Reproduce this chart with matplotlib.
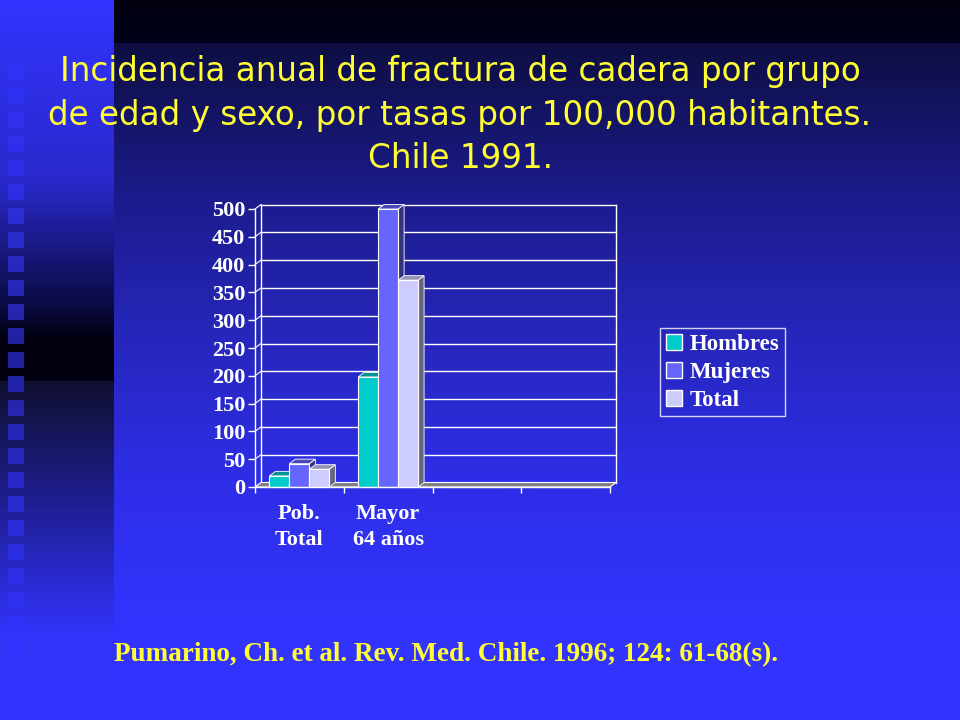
import numpy as np
import matplotlib
matplotlib.use("Agg")
import matplotlib.pyplot as plt
from matplotlib.patches import Polygon, Patch, Rectangle

# --- datos ---
categorias = ["Pob.\nTotal", "Mayor\n64 años", "", ""]
series = ["Hombres", "Mujeres", "Total"]
hombres = [20, 198, 0, 0]
mujeres = [42, 500, 0, 0]
total = [32, 372, 0, 0]
y_ticks = [0, 50, 100, 150, 200, 250, 300, 350, 400, 450, 500]

titulo = ("Incidencia anual de fractura de cadera por grupo\n"
          "de edad y sexo, por tasas por 100,000 habitantes.\n"
          "Chile 1991.")
cita = "Pumarino, Ch. et al. Rev. Med. Chile. 1996; 124: 61-68(s)."

colores = ["#00cccc", "#6666ff", "#ccccff"]
amarillo = "#ffff33"

W, H = 960, 720
fig = plt.figure(figsize=(W / 100, H / 100), dpi=100)

# --- fondo (degradado tipo diapositiva) ---
bg = fig.add_axes([0, 0, 1, 1])
yy = np.arange(H)


def grad(stops):
    ys = [s[0] for s in stops]
    cols = np.array([matplotlib.colors.to_rgb(s[1]) for s in stops])
    return np.stack([np.interp(yy, ys, cols[:, k]) for k in range(3)], axis=1)


main_col = grad([(0, "#000010"), (42, "#000018"), (43, "#0e0e42"), (200, "#1c1c8e"),
                 (330, "#2626ba"), (480, "#2e2ee8"), (630, "#3333ff"), (719, "#3333ff")])
left_col = grad([(0, "#3333ff"), (180, "#2929cc"), (300, "#0c0c48"), (338, "#000010"),
                 (380, "#000010"), (381, "#101030"), (500, "#1e1e90"), (630, "#3232f8"),
                 (719, "#3333ff")])
sq_col = grad([(0, "#3333ff"), (184, "#2f2fe6"), (350, "#22229c"), (500, "#2a2ad0"),
               (640, "#3333ff"), (719, "#3333ff")])
img = np.zeros((H, W, 3))
img[:, :, :] = main_col[:, None, :]
img[:, :114, :] = left_col[:, None, :]
for k in range(25):
    y0 = 64 + 24 * k
    img[y0:y0 + 16, 8:24, :] = sq_col[y0:y0 + 16][:, None, :]
bg.imshow(img, extent=(0, W, H, 0), aspect="auto")
bg.set_xlim(0, W)
bg.set_ylim(H, 0)
bg.axis("off")

# --- titulo y cita ---
fig.text(460 / W, 1 - 115 / H, titulo, ha="center", va="center", color=amarillo,
         fontsize=23.5, family="DejaVu Sans", linespacing=1.42)
fig.text(114 / W, 1 - 655 / H, cita, ha="left", va="center", color=amarillo,
         fontsize=19.5, family="Liberation Serif", weight="bold")

# --- grafico de barras 3D ---
ax = fig.add_axes([255 / W, (H - 487) / H, 355 / W, 278 / H])
ax.set_xlim(-0.5, 3.5)
ax.set_ylim(0, 500)
ax.patch.set_alpha(0)
for s in ax.spines.values():
    s.set_visible(False)

dx = 6 / 88.75
dy = 4.5 / (278 / 500)
x = np.arange(len(categorias))
w = 0.225

# pared del fondo
for yv in y_ticks[1:]:
    ax.plot([-0.5 + dx, 3.5 + dx], [yv + dy, yv + dy], color="white", lw=1, clip_on=False, zorder=1)
    ax.plot([-0.5, -0.5 + dx], [yv, yv + dy], color="white", lw=0.8, clip_on=False, zorder=1)
ax.plot([-0.5 + dx, -0.5 + dx], [dy, 500 + dy], color="white", lw=1, clip_on=False, zorder=1)
ax.plot([3.5 + dx, 3.5 + dx], [dy, 500 + dy], color="white", lw=1, clip_on=False, zorder=1)
ax.plot([-0.5, -0.5], [0, 500], color="white", lw=1, clip_on=False, zorder=1)
ax.add_patch(Polygon([(-0.5, 0), (3.5, 0), (3.5 + dx, dy), (-0.5 + dx, dy)], closed=True,
                     facecolor="#808080", edgecolor="white", lw=0.8, clip_on=False, zorder=2))


def oscuro(c, f):
    r, g, b = matplotlib.colors.to_rgb(c)
    return (r * f, g * f, b * f)


datos = [hombres, mujeres, total]
for i, (vals, col) in enumerate(zip(datos, colores)):
    off = (i - 1) * w
    for j, v in enumerate(vals):
        if v <= 0:
            continue
        x0 = x[j] + off - w / 2
        x1 = x0 + w
        z = 3 + 3 * i
        ax.add_patch(Polygon([(x1, 0), (x1, v), (x1 + dx, v + dy), (x1 + dx, dy)], closed=True,
                             facecolor=oscuro(col, 0.5), edgecolor="white", lw=0.6,
                             clip_on=False, zorder=z))
        ax.add_patch(Polygon([(x0, v), (x0 + dx, v + dy), (x1 + dx, v + dy), (x1, v)], closed=True,
                             facecolor=oscuro(col, 0.72), edgecolor="white", lw=0.6,
                             clip_on=False, zorder=z))
    ax.bar(x + off, vals, width=w, color=col, edgecolor="white", linewidth=0.8,
           zorder=4 + 3 * i, clip_on=False)

ax.plot([-0.5, 3.5], [0, 0], color="white", lw=1, clip_on=False, zorder=20)

ax.set_yticks(y_ticks)
ax.tick_params(axis="y", colors="white", length=5, width=1, pad=2)
ax.set_xticks(x)
ax.set_xticklabels(categorias)
ax.set_xticks(np.arange(-0.5, 4, 1), minor=True)
ax.tick_params(axis="x", which="major", length=0, pad=12, colors="white")
ax.tick_params(axis="x", which="minor", length=4, width=1, colors="white")
for lbl in ax.get_xticklabels() + ax.get_yticklabels():
    lbl.set_family("Liberation Serif")
    lbl.set_weight("bold")
    lbl.set_fontsize(16)
    lbl.set_color("white")
for lbl in ax.get_xticklabels():
    lbl.set_linespacing(1.45)

# leyenda
handles = [Patch(facecolor=c, edgecolor="white", lw=1) for c in colores]
leg = fig.legend(handles, series, loc="upper left", bbox_to_anchor=(660 / W, 1 - 328 / H),
                 frameon=True, facecolor="none", edgecolor="white", fancybox=False,
                 prop={"family": "Liberation Serif", "weight": "bold", "size": 16.5},
                 handlelength=0.7, handleheight=0.7, handletextpad=0.35,
                 labelspacing=0.3, borderpad=0.25, borderaxespad=0)
leg.get_frame().set_linewidth(1)
for t in leg.get_texts():
    t.set_color("white")

fig.savefig("out.png", dpi=100)
